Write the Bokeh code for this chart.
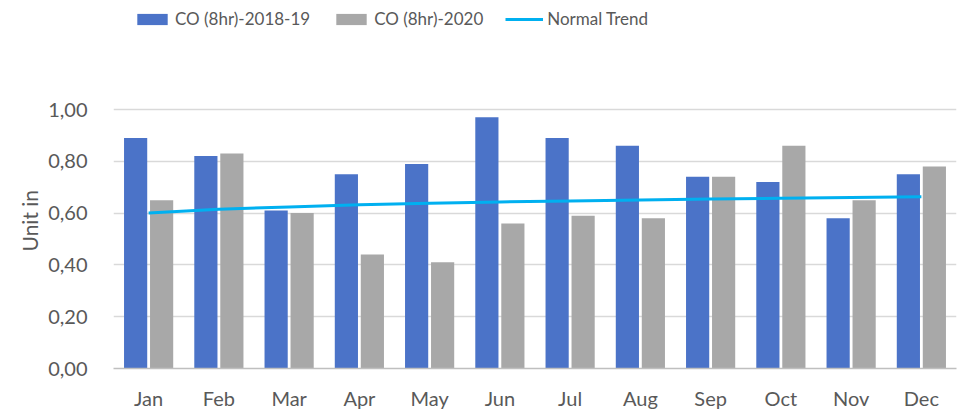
from bokeh.plotting import figure
from bokeh.models import (ColumnDataSource, FactorRange, Range1d, FixedTicker,
                          CustomJSTickFormatter, Legend, LegendItem, Title)
from bokeh.transform import dodge
from bokeh.embed import file_html
from bokeh.resources import INLINE

months = ["Jan", "Feb", "Mar", "Apr", "May", "Jun",
          "Jul", "Aug", "Sep", "Oct", "Nov", "Dec"]
co_2018_19 = [0.89, 0.82, 0.61, 0.75, 0.79, 0.97, 0.89, 0.86, 0.74, 0.72, 0.58, 0.75]
co_2020 = [0.65, 0.83, 0.60, 0.44, 0.41, 0.56, 0.59, 0.58, 0.74, 0.86, 0.65, 0.78]
normal_trend = [0.600, 0.615, 0.624, 0.632, 0.638, 0.643, 0.647, 0.651, 0.654, 0.657, 0.660, 0.663]
y_ticks = [0.0, 0.2, 0.4, 0.6, 0.8, 1.0]

src = ColumnDataSource(dict(month=months, a=co_2018_19, b=co_2020, t=normal_trend))

FONT = "Lato"
TXT = "#595959"

# frame extends to the top so the legend can sit inside it, above the 1,00 gridline
p = figure(x_range=FactorRange(*months), y_range=Range1d(0, 368 / 259),
           frame_width=843, frame_height=368, output_backend="svg", toolbar_location=None,
           min_border_left=113, min_border_right=5, min_border_top=0, min_border_bottom=0)
p.outline_line_color = None

r1 = p.vbar(x=dodge("month", -0.185, range=p.x_range), top="a", width=0.33,
            source=src, fill_color="#4B73C8", line_color=None)
r2 = p.vbar(x=dodge("month", 0.185, range=p.x_range), top="b", width=0.33,
            source=src, fill_color="#A8A8A8", line_color=None)
r3 = p.line(x="month", y="t", source=src, line_color="#00B0F0", line_width=3)

p.xgrid.grid_line_color = None
p.ygrid.grid_line_color = "#D9D9D9"
p.ygrid.grid_line_width = 1.5

p.yaxis.ticker = FixedTicker(ticks=y_ticks)
p.yaxis.formatter = CustomJSTickFormatter(code="return tick.toFixed(2).replace('.', ',');")
p.yaxis.axis_line_color = None
p.yaxis.major_tick_line_color = None
p.yaxis.minor_tick_line_color = None
p.yaxis.major_label_standoff = 20

p.xaxis.axis_line_color = "#BFBFBF"
p.xaxis.axis_line_width = 1.5
p.xaxis.major_tick_line_color = None
p.xaxis.minor_tick_line_color = None
p.xaxis.major_label_standoff = 11

p.yaxis.major_label_text_font_size = "20px"
p.xaxis.major_label_text_font_size = "20px"
for ax in (p.xaxis, p.yaxis):
    ax.major_label_text_font = FONT
    ax.major_label_text_color = TXT

ytitle = Title(text="Unit in", align="left", offset=117, standoff=8,
               text_font=FONT, text_font_style="normal", text_font_size="21px",
               text_color=TXT)
p.add_layout(ytitle, "left")

legend = Legend(items=[LegendItem(label="CO (8hr)-2018-19", renderers=[r1]),
                       LegendItem(label="CO (8hr)-2020", renderers=[r2]),
                       LegendItem(label="Normal Trend", renderers=[r3])],
                orientation="horizontal", location=(20, 339),
                glyph_width=38, glyph_height=14, label_standoff=4, spacing=22,
                padding=0, margin=0, border_line_color=None, background_fill_alpha=0,
                label_text_font=FONT, label_text_font_size="17px", label_text_color=TXT)
p.add_layout(legend)

open("out.html", "w").write(file_html(p, INLINE))
